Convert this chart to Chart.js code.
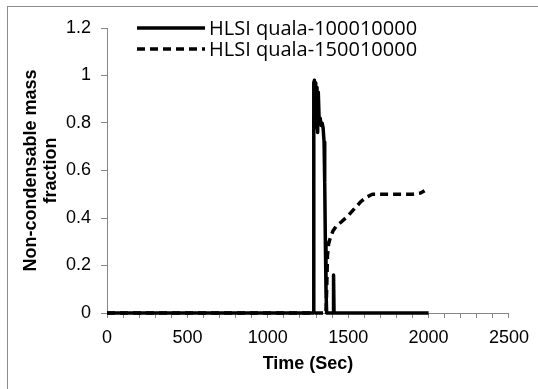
<!DOCTYPE html>
<html>
<head>
<meta charset="utf-8">
<script src="https://cdn.jsdelivr.net/npm/chart.js@4.4.0/dist/chart.umd.min.js"></script>
<style>
html, body { margin: 0; padding: 0; background: #fff; }
</style>
</head>
<body>
<canvas id="chart" width="538" height="389"></canvas>
<script>
// series
const seriesNames = ['HLSI quala-100010000', 'HLSI quala-150010000'];

const solidTime = [0, 1282, 1286, 1290, 1294, 1298, 1302, 1306, 1310, 1314, 1320, 1326, 1332, 1338, 1344, 1350, 1354, 1358, 1362, 1366, 1406, 1409, 1412, 2000];
const solidFrac = [0, 0, 0.97, 0.98, 0.78, 0.97, 0.82, 0.95, 0.76, 0.93, 0.8, 0.82, 0.79, 0.8, 0.78, 0.72, 0.55, 0.3, 0.1, 0, 0, 0.16, 0, 0];

const dashTime = [0, 1362, 1367, 1371, 1378, 1390, 1405, 1430, 1460, 1500, 1540, 1580, 1620, 1650, 1700, 1800, 1900, 1950, 1975];
const dashFrac = [0, 0, 0.12, 0.24, 0.29, 0.32, 0.345, 0.37, 0.385, 0.41, 0.44, 0.47, 0.49, 0.5, 0.5, 0.5, 0.5, 0.505, 0.515];

const xLabels = [0, 500, 1000, 1500, 2000, 2500];
const yLabels = [0, 0.2, 0.4, 0.6, 0.8, 1, 1.2];

const axisGray = '#868686';
const tickFont = { family: 'Liberation Sans, Arial, sans-serif', size: 18 };
const titleFont = { family: 'Liberation Sans, Arial, sans-serif', size: 18, weight: 'bold', lineHeight: 1.1 };

function pts(xs, ys) {
    return xs.map((x, i) => ({ x: x, y: ys[i] }));
}

// grey frame round the whole chart
const framePlugin = {
    id: 'frame',
    beforeDraw(chart) {
        const ctx = chart.ctx;
        ctx.save();
        ctx.fillStyle = '#fff';
        ctx.fillRect(0, 0, chart.width, chart.height);
        ctx.strokeStyle = '#8c8c8c';
        ctx.lineWidth = 1;
        ctx.strokeRect(7.5, 6.5, 700, 500);
        ctx.restore();
    }
};

// legend sitting inside the plot, top left
const legendPlugin = {
    id: 'insideLegend',
    afterDraw(chart) {
        const ctx = chart.ctx;
        ctx.save();
        chart.data.datasets.forEach((ds, i) => {
            const y = 28 + i * 21;
            ctx.strokeStyle = ds.borderColor;
            ctx.lineWidth = ds.borderWidth;
            ctx.setLineDash(ds.borderDash || []);
            ctx.beginPath();
            ctx.moveTo(137, y);
            ctx.lineTo(205, y);
            ctx.stroke();
            ctx.setLineDash([]);
            ctx.fillStyle = '#000';
            ctx.font = '20px "Open Sans", sans-serif';
            ctx.textBaseline = 'middle';
            ctx.fillText(ds.label, 209, y + 1);
        });
        ctx.restore();
    }
};

new Chart(document.getElementById('chart'), {
    type: 'line',
    data: {
        datasets: [{
            label: seriesNames[0],
            data: pts(solidTime, solidFrac),
            borderColor: '#000',
            borderWidth: 3.5,
            borderJoinStyle: 'round',
            pointRadius: 0,
            tension: 0,
            clip: false
        }, {
            label: seriesNames[1],
            data: pts(dashTime, dashFrac),
            borderColor: '#000',
            borderWidth: 3.5,
            borderDash: [8, 5],
            borderJoinStyle: 'round',
            pointRadius: 0,
            tension: 0,
            clip: false
        }]
    },
    options: {
        responsive: false,
        animation: false,
        devicePixelRatio: 1,
        layout: { padding: { left: 0, right: 26, top: 28, bottom: 0 } },
        plugins: {
            legend: { display: false },
            tooltip: { enabled: false }
        },
        scales: {
            x: {
                type: 'linear',
                min: 0,
                max: 2500,
                afterFit(scale) { scale.height = 76; },
                afterBuildTicks(scale) {
                    const t = [];
                    for (let v = 0; v <= 2500; v += 100) t.push({ value: v });
                    scale.ticks = t;
                },
                ticks: {
                    autoSkip: false,
                    maxRotation: 0,
                    color: '#000',
                    font: tickFont,
                    padding: 9,
                    callback: v => xLabels.includes(v) ? String(v) : ''
                },
                grid: { drawOnChartArea: false, drawTicks: true, tickLength: 5, color: axisGray },
                border: { display: true, color: axisGray, width: 1 },
                title: {
                    display: true,
                    text: 'Time (Sec)',
                    color: '#000',
                    font: titleFont,
                    padding: { top: 0, bottom: 15 }
                }
            },
            y: {
                min: 0,
                max: 1.2,
                afterFit(scale) { scale.width = 107; },
                afterBuildTicks(scale) {
                    scale.ticks = yLabels.map(v => ({ value: v }));
                },
                ticks: {
                    color: '#000',
                    font: tickFont,
                    padding: 10,
                    callback: v => String(Number(v.toFixed(1)))
                },
                grid: { drawOnChartArea: false, drawTicks: true, tickLength: 6, color: axisGray },
                border: { display: true, color: axisGray, width: 1 },
                title: {
                    display: true,
                    text: ['Non-condensable mass', 'fraction'],
                    color: '#000',
                    font: titleFont,
                    padding: { top: 21, bottom: 0 }
                }
            }
        }
    },
    plugins: [framePlugin, legendPlugin]
});
</script>
</body>
</html>
